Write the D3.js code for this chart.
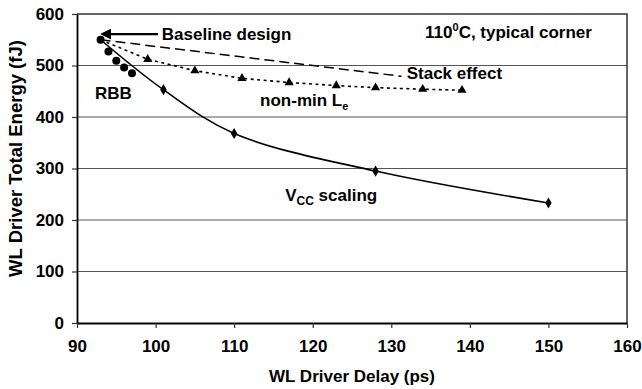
<!DOCTYPE html>
<meta charset="utf-8">
<script src="https://d3js.org/d3.v7.min.js"></script>
<style>
  body { margin: 0; background: #fff; }
  text { font-family: "Liberation Sans", Arial, sans-serif; font-weight: bold; fill: #000; }
</style>
<div id="my_dataviz"></div>
<script>

// data
var baseline = [93, 550];
var rbbDelay  = [93, 94, 95, 96, 97];
var rbbEnergy = [550, 527, 509, 496, 485];
var vccDelay  = [93, 101, 110, 128, 150];
var vccEnergy = [550, 453, 368, 295, 233];
var leDelay   = [93, 99, 105, 111, 117, 123, 128, 134, 139];
var leEnergy  = [550, 512, 490, 475, 467, 461, 457, 454, 452];
var stackDelay  = [93, 131.3];
var stackEnergy = [550, 479];
var xTicks = [90, 100, 110, 120, 130, 140, 150, 160];
var yTicks = [0, 100, 200, 300, 400, 500, 600];

function pairs(xs, ys) { return xs.map(function(d, i) { return [d, ys[i]]; }); }

var margin = {top: 14, right: 15, bottom: 66, left: 77},
    width = 642 - margin.left - margin.right,
    height = 389 - margin.top - margin.bottom;

var svg = d3.select("#my_dataviz")
  .append("svg")
    .attr("width", width + margin.left + margin.right)
    .attr("height", height + margin.top + margin.bottom)
  .append("g")
    .attr("transform", "translate(" + margin.left + "," + margin.top + ")");

var x = d3.scaleLinear().domain([90, 160]).range([0, width]);
var y = d3.scaleLinear().domain([0, 600]).range([height, 0]);

// gridlines
svg.selectAll(".grid")
  .data(yTicks.filter(function(d) { return d > 0 && d < 600; }))
  .enter().append("line")
    .attr("x1", 0).attr("x2", width)
    .attr("y1", function(d) { return y(d); })
    .attr("y2", function(d) { return y(d); })
    .attr("stroke", "#555").attr("stroke-width", 1.2);

// frame top/right
svg.append("path")
  .attr("d", "M0," + y(600) + "H" + width + "V" + height)
  .attr("fill", "none").attr("stroke", "#333").attr("stroke-width", 1.5);

// axes
var xAxis = svg.append("g")
  .attr("transform", "translate(0," + height + ")")
  .call(d3.axisBottom(x).tickValues(xTicks).tickSize(5).tickPadding(12).tickSizeOuter(0));
var yAxis = svg.append("g")
  .call(d3.axisLeft(y).tickValues(yTicks).tickSize(5).tickPadding(8).tickSizeOuter(0));
[xAxis, yAxis].forEach(function(a) {
  a.select(".domain").attr("stroke", "#000").attr("stroke-width", 1.8);
  a.selectAll(".tick line").attr("stroke", "#333").attr("stroke-width", 1.2);
  a.selectAll("text").attr("font-size", "17px").attr("font-family", null);
});
xAxis.selectAll("text").attr("dy", "0.71em");

svg.append("text")
  .attr("x", width / 2).attr("y", height + 59)
  .attr("text-anchor", "middle").attr("font-size", "17px")
  .text("WL Driver Delay (ps)");

svg.append("text")
  .attr("transform", "rotate(-90)")
  .attr("x", -(y(600) + y(0)) / 2 + 10).attr("y", -55)
  .attr("text-anchor", "middle").attr("font-size", "18.5px")
  .text("WL Driver Total Energy (fJ)");

var line = d3.line().x(function(d) { return x(d[0]); }).y(function(d) { return y(d[1]); });

// stack effect (dashed)
svg.append("path")
  .attr("d", line(pairs(stackDelay, stackEnergy)))
  .attr("fill", "none").attr("stroke", "#000").attr("stroke-width", 1.5)
  .attr("stroke-dasharray", "10,5");

// non-min Le (dotted)
svg.append("path")
  .attr("d", line(pairs(leDelay, leEnergy)))
  .attr("fill", "none").attr("stroke", "#000").attr("stroke-width", 1.6)
  .attr("stroke-dasharray", "3,3.5");

// VCC scaling (smooth)
svg.append("path")
  .attr("d", line.curve(d3.curveCatmullRom.alpha(0.5))(pairs(vccDelay, vccEnergy)))
  .attr("fill", "none").attr("stroke", "#000").attr("stroke-width", 1.6);

// markers
svg.selectAll(".tri")
  .data(pairs(leDelay, leEnergy).slice(1))
  .enter().append("path")
    .attr("d", d3.symbol().type(d3.symbolTriangle).size(36))
    .attr("transform", function(d) { return "translate(" + x(d[0]) + "," + y(d[1]) + ")"; })
    .attr("fill", "#000");

svg.selectAll(".dia")
  .data(pairs(vccDelay, vccEnergy).slice(1))
  .enter().append("path")
    .attr("d", d3.symbol().type(d3.symbolDiamond).size(36))
    .attr("transform", function(d) { return "translate(" + x(d[0]) + "," + y(d[1]) + ")"; })
    .attr("fill", "#000");

svg.selectAll(".rbb")
  .data(pairs(rbbDelay, rbbEnergy))
  .enter().append("circle")
    .attr("cx", function(d) { return x(d[0]); })
    .attr("cy", function(d) { return y(d[1]); })
    .attr("r", 4)
    .attr("fill", "#000");

// annotations
svg.append("defs").append("marker")
  .attr("id", "arrow").attr("viewBox", "0 0 10 10")
  .attr("refX", 1).attr("refY", 5)
  .attr("markerWidth", 5).attr("markerHeight", 5)
  .attr("orient", "auto-start-reverse")
  .append("path").attr("d", "M0,0L10,5L0,10z").attr("fill", "#000");

svg.append("line")
  .attr("x1", x(100.3)).attr("y1", y(561))
  .attr("x2", x(94.2)).attr("y2", y(561))
  .attr("stroke", "#000").attr("stroke-width", 2.2)
  .attr("marker-end", "url(#arrow)");

svg.append("text").attr("x", x(100.8)).attr("y", y(549.5))
  .attr("font-size", "17px").text("Baseline design");

var temp = svg.append("text").attr("x", x(134.3)).attr("y", y(553.4)).attr("font-size", "17px");
temp.append("tspan").text("110");
temp.append("tspan").attr("font-size", "11px").attr("dy", -7).text("0");
temp.append("tspan").attr("dy", 7).text("C, typical corner");

svg.append("text").attr("x", x(131.96)).attr("y", y(473.8))
  .attr("font-size", "17px").text("Stack effect");

var le = svg.append("text").attr("x", x(113.3)).attr("y", y(421.4)).attr("font-size", "17px");
le.append("tspan").text("non-min L");
le.append("tspan").attr("font-size", "11px").attr("dy", 4).text("e");

svg.append("text").attr("x", x(92.3)).attr("y", y(435))
  .attr("font-size", "17px").text("RBB");

var vcc = svg.append("text").attr("x", x(116.5)).attr("y", y(236.9)).attr("font-size", "17px");
vcc.append("tspan").text("V");
vcc.append("tspan").attr("font-size", "12px").attr("dy", 4).text("CC");
vcc.append("tspan").attr("dy", -4).text(" scaling");

</script>
